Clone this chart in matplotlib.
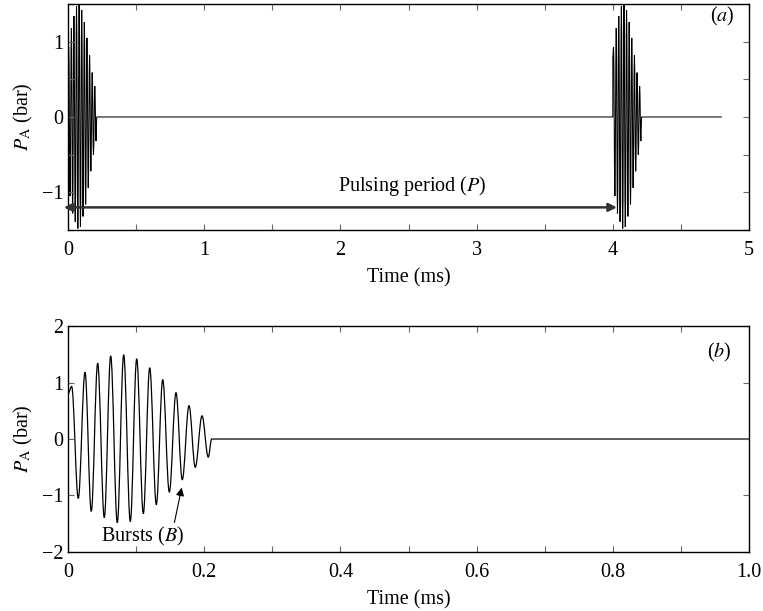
import numpy as np
import matplotlib
matplotlib.use("Agg")
import matplotlib.pyplot as plt
from matplotlib.path import Path
from matplotlib.patches import PathPatch

plt.rcParams['font.family'] = ['Liberation Serif', 'DejaVu Serif']
plt.rcParams['mathtext.fontset'] = 'stix'
plt.rcParams['font.size'] = 14.5

# --- Daten: Extremwerte eines Bursts ---
# Zeit (ms) und Druck P_A (bar) der Maxima/Minima, abwechselnd
burst_t = [0.0, 0.0054, 0.0151, 0.0250, 0.0342, 0.0436, 0.0533, 0.0627,
           0.0724, 0.0818, 0.0915, 0.1009, 0.1106, 0.1200, 0.1297, 0.1391,
           0.1488, 0.1586, 0.1678, 0.1777, 0.1869, 0.1968, 0.2060, 0.2110]
burst_p = [0.80, 0.93, -1.05, 1.18, -1.28, 1.34, -1.39, 1.47,
           -1.48, 1.49, -1.46, 1.42, -1.32, 1.26, -1.16, 1.05,
           -0.94, 0.82, -0.72, 0.59, -0.50, 0.41, -0.32, 0.0]

PULSE_PERIOD = 4.0     # ms
T_END_A = 4.8          # ms, Ende der Kurve in (a)
T_END_B = 1.0          # ms, Ende der Kurve in (b)


def burst_path(t, p, offsets, t_end):
    """Glatte Kurve durch die Extremwerte (Bezier), Nulllinie dazwischen."""
    verts, codes = [], []
    k = 0.364
    for n, off in enumerate(offsets):
        tt = [x + off for x in t]
        if n == 0:
            verts.append((tt[0], p[0]))
            codes.append(Path.MOVETO)
        else:
            verts.append((tt[0], 0.0))
            codes.append(Path.LINETO)
            verts.append((tt[0], p[0]))
            codes.append(Path.LINETO)
        for i in range(1, len(tt)):
            d = tt[i] - tt[i - 1]
            verts += [(tt[i - 1] + k * d, p[i - 1]), (tt[i] - k * d, p[i]), (tt[i], p[i])]
            codes += [Path.CURVE4] * 3
    verts.append((t_end, 0.0))
    codes.append(Path.LINETO)
    return Path(verts, codes)


def style_axes(ax):
    ax.tick_params(direction='in', top=True, right=True, length=4, width=0.8,
                   color='0.4', labelsize=14.5)
    ax.tick_params(axis='x', pad=8)
    for s in ax.spines.values():
        s.set_linewidth(1.0)


fig = plt.figure(figsize=(7.63, 6.11), dpi=100)
ax1 = fig.add_axes([0.0891, 0.6236, 0.8926, 0.3699])
ax2 = fig.add_axes([0.0891, 0.0966, 0.8926, 0.3698])

# --- (a) ---
ax1.add_patch(PathPatch(burst_path(burst_t, burst_p, [0.0, PULSE_PERIOD], T_END_A),
                        fill=False, lw=0.75, edgecolor='black'))
ax1.set_xlim(0, 5)
ax1.set_ylim(-1.5, 1.5)
ax1.set_xticks(np.arange(0, 5.01, 0.5))
ax1.set_xticklabels(['0', '', '1', '', '2', '', '3', '', '4', '', '5'])
ax1.set_yticks(np.arange(-1.5, 1.51, 0.5))
ax1.set_yticklabels(['', '\u22121', '', '0', '', '1', ''])
ax1.set_xlabel('Time (ms)', labelpad=6)
ax1.set_ylabel(r'$P_{\mathrm{A}}$ (bar)', labelpad=5)
style_axes(ax1)
ax1.annotate('', xy=(-0.03, -1.2), xytext=(4.03, -1.2), annotation_clip=False,
             arrowprops=dict(arrowstyle='<|-|>', color='0.2', lw=1.8,
                             mutation_scale=12, shrinkA=0, shrinkB=0))
ax1.text(2.53, -0.91, r'Pulsing period ($P$)', ha='center', va='center')
ax1.text(4.80, 1.33, r'($a$)', ha='center', va='center')

# --- (b) ---
ax2.add_patch(PathPatch(burst_path(burst_t, burst_p, [0.0], T_END_B),
                        fill=False, lw=0.9, edgecolor='black'))
ax2.set_xlim(0, 1.0)
ax2.set_ylim(-2, 2)
ax2.set_xticks(np.arange(0, 1.01, 0.1))
ax2.set_xticklabels(['0', '', '0.2', '', '0.4', '', '0.6', '', '0.8', '', '1.0'])
ax2.set_yticks([-2, -1, 0, 1, 2])
ax2.set_yticklabels(['\u22122', '\u22121', '0', '1', '2'])
ax2.set_xlabel('Time (ms)', labelpad=6)
ax2.set_ylabel(r'$P_{\mathrm{A}}$ (bar)', labelpad=5)
style_axes(ax2)
ax2.annotate(r'Bursts ($B$)', xy=(0.167, -0.86), xytext=(0.109, -1.73),
             ha='center', va='center',
             arrowprops=dict(arrowstyle='-|>', color='black', lw=0.8,
                             mutation_scale=12, shrinkA=0, shrinkB=0,
                             relpos=(0.88, 1.0)))
ax2.text(0.957, 1.53, r'($b$)', ha='center', va='center')

fig.savefig('out.png', dpi=100)
